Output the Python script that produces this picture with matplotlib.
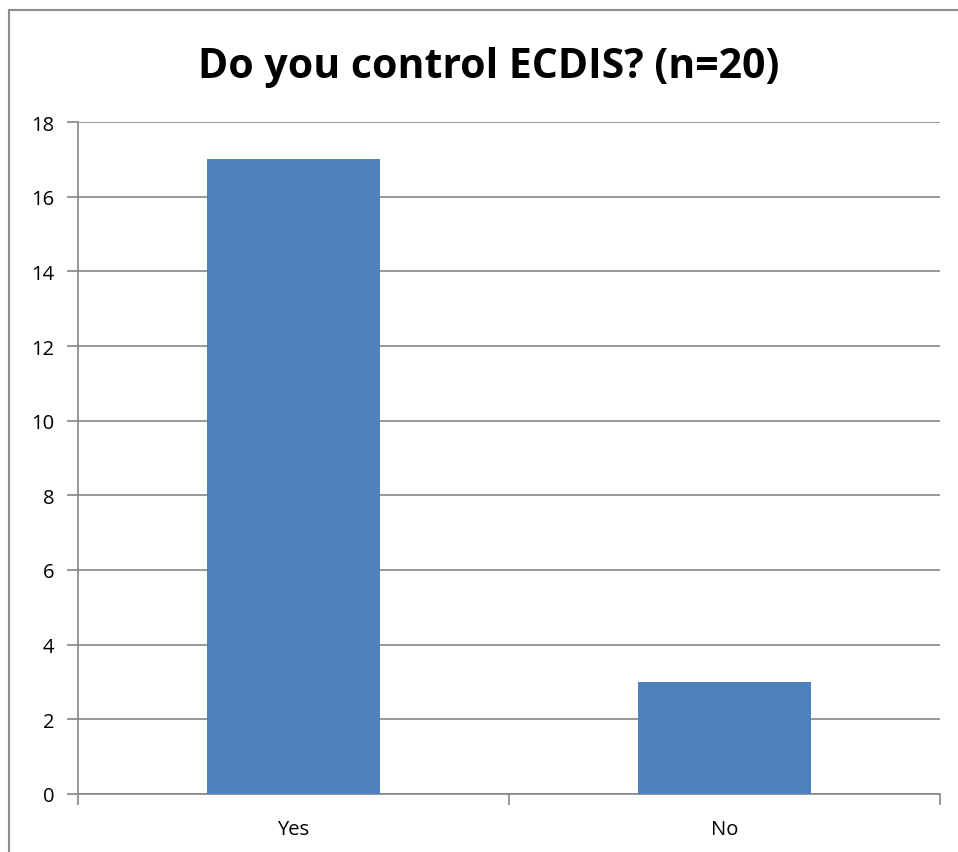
import matplotlib
matplotlib.use("Agg")
import matplotlib.pyplot as plt
from matplotlib.lines import Line2D

categories = ["Yes", "No"]
counts = [17, 3]
yticks = [0, 2, 4, 6, 8, 10, 12, 14, 16, 18]

BAR_COLOR = "#4F81BD"
GRID_COLOR = "#868686"
plt.rcParams["font.family"] = ["Open Sans", "DejaVu Sans"]

fig = plt.figure(figsize=(9.58, 8.53), dpi=100)
ax = fig.add_axes([78 / 958, 1 - 795 / 853, (940 - 78) / 958, (795 - 123) / 853])

# outer chart border (only left and top visible in the crop)
fig.add_artist(Line2D([9 / 958, 9 / 958], [0, 1 - 11 / 853], transform=fig.transFigure,
                      color="#8c8c8c", lw=1.5))
fig.add_artist(Line2D([9 / 958, 1], [1 - 11 / 853, 1 - 11 / 853], transform=fig.transFigure,
                      color="#8c8c8c", lw=1.5))

x = range(len(categories))
ax.bar(x, counts, width=0.4, color=BAR_COLOR, zorder=3)

ax.set_xlim(-0.5, len(categories) - 0.5)
ax.set_ylim(0, 18)
ax.set_yticks(yticks)
ax.set_yticklabels([str(v) for v in yticks], fontsize=14.5)
ax.set_xticks([-0.5, 0.5, 1.5])
ax.set_xticklabels([])
ax.set_xticks(list(x), minor=True)
ax.set_xticklabels(categories, minor=True, fontsize=14.5)
ax.tick_params(axis="x", which="minor", length=0, pad=18)
ax.tick_params(axis="x", which="major", length=8, width=1.2, color=GRID_COLOR, direction="out")
ax.tick_params(axis="y", length=8, width=1.2, color=GRID_COLOR, direction="out", pad=9)

ax.grid(axis="y", color=GRID_COLOR, lw=1.2, zorder=0)
for s in ["top", "right"]:
    ax.spines[s].set_visible(False)
for s in ["left", "bottom"]:
    ax.spines[s].set_color(GRID_COLOR)
    ax.spines[s].set_linewidth(1.2)

fig.text(489 / 958, 1 - 68 / 853, "Do you control ECDIS? (n=20)", ha="center", va="center",
         fontsize=29.5, fontweight="bold")

fig.savefig("out.png", dpi=100)
